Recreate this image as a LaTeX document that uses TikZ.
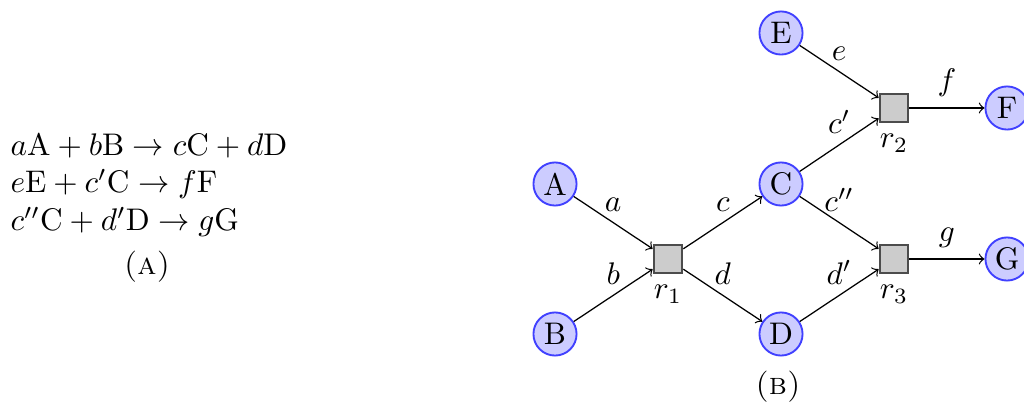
\documentclass[tikz,border=0pt]{standalone}
\usepackage{amsmath}
\begin{document}
\begin{tikzpicture}[x=0.32pt,y=-0.32pt,
  species/.style={circle, draw=blue!75, fill=blue!20, semithick, minimum size=13.8pt, inner sep=0pt},
  reaction/.style={rectangle, draw=black!70, fill=black!20, semithick, minimum size=9.2pt, inner sep=0pt},
  flow/.style={->},
  rlabel/.style={midway, above},
  eqline/.style={anchor=base west, inner sep=0pt},
  caption/.style={anchor=base, inner sep=0pt}]
\useasboundingbox (0,0) rectangle (1024,402);
% (A) equations
\node[eqline] (eq1) at (10,155.5) {$a\mathrm{A}+b\mathrm{B}\rightarrow c\mathrm{C}+d\mathrm{D}$};
\node[eqline] (eq2) at (10,193) {$e\mathrm{E}+c'\mathrm{C}\rightarrow f\mathrm{F}$};
\node[eqline] (eq3) at (10,230.5) {$c''\mathrm{C}+d'\mathrm{D}\rightarrow g\mathrm{G}$};
\node[caption] (capA) at (147,275) {\textsc{(a)}};
% (B) network
\node[species] (A) at (555,184) {A};
\node[species] (B) at (555,334) {B};
\node[species] (C) at (781,184) {C};
\node[species] (D) at (781,334) {D};
\node[species] (E) at (781,33) {E};
\node[species] (F) at (1007,108) {F};
\node[species] (G) at (1007,259) {G};
\node[reaction, label=below:$r_1$] (r1) at (668,259) {};
\node[reaction, label=below:$r_2$] (r2) at (894,108) {};
\node[reaction, label=below:$r_3$] (r3) at (894,259) {};
\draw[flow] (A) -- node[rlabel] (la) {$a$} (r1);
\draw[flow] (B) -- node[rlabel] (lb) {$b$} (r1);
\draw[flow] (r1) -- node[rlabel] (lc) {$c$} (C);
\draw[flow] (r1) -- node[rlabel] (ld) {$d$} (D);
\draw[flow] (E) -- node[rlabel] (le) {$e$} (r2);
\draw[flow] (C) -- node[rlabel] (lc1) {$c'$} (r2);
\draw[flow] (r2) -- node[rlabel] (lf) {$f$} (F);
\draw[flow] (C) -- node[rlabel] (lc2) {$c''$} (r3);
\draw[flow] (D) -- node[rlabel] (ld1) {$d'$} (r3);
\draw[flow] (r3) -- node[rlabel] (lg) {$g$} (G);
\node[caption] (capB) at (778,394) {\textsc{(b)}};
\end{tikzpicture}
\end{document}
